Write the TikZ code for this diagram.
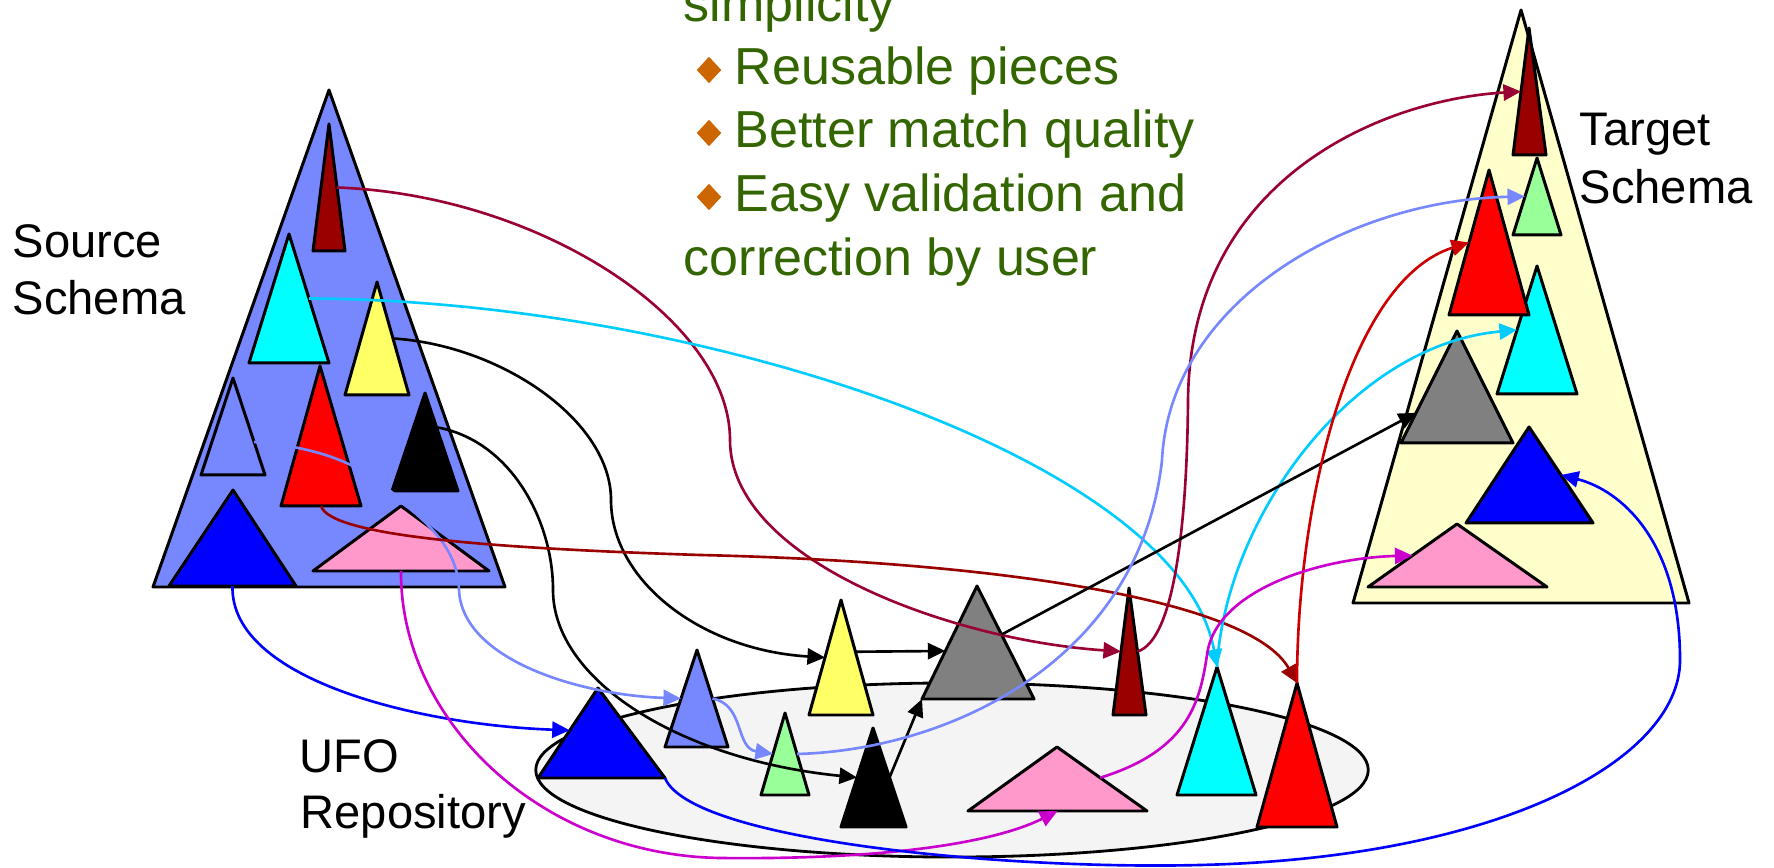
\documentclass[tikz,border=0pt]{standalone}
\usepackage{fontspec}
\setmainfont{Liberation Sans}
\usetikzlibrary{arrows.meta,calc,shapes.geometric}

\definecolor{srcBlue}{HTML}{7788FF}
\definecolor{tgtYellow}{HTML}{FFFFCC}
\definecolor{ufoFill}{HTML}{F4F4F4}
\definecolor{dkRed}{HTML}{990000}
\definecolor{triRed}{HTML}{FF0000}
\definecolor{triBlue}{HTML}{0000FF}
\definecolor{triCyan}{HTML}{00FFFF}
\definecolor{triYellow}{HTML}{FFFF66}
\definecolor{triGreen}{HTML}{99FF99}
\definecolor{triPink}{HTML}{FF99CC}
\definecolor{triGray}{HTML}{808080}
\definecolor{lnMaroon}{HTML}{990033}
\definecolor{lnRed}{HTML}{CC0000}
\definecolor{lnCyan}{HTML}{00CCFF}
\definecolor{lnMagenta}{HTML}{CC00CC}
\definecolor{txtGreen}{HTML}{336600}
\definecolor{bulletOr}{HTML}{CC6600}

\tikzset{
    tri/.style = {draw=black, line width=0.85pt, line join=round},
    link/.style = {line width=0.75pt, -{Triangle[length=5pt, width=4.6pt]}},
    ufoDisk/.style = {ellipse, draw, fill=ufoFill, line width=0.8pt, minimum width=8.32cm, minimum height=1.74cm, inner sep=0pt},
    lbl/.style = {anchor=base west, inner sep=0pt, font=\fontsize{13.4pt}{16pt}\selectfont},
    pts/.style = {anchor=base west, inner sep=0pt, text=txtGreen, font=\fontsize{14.8pt}{18pt}\selectfont},
    bulletMark/.style = {diamond, fill=bulletOr, inner sep=0pt, minimum width=0.25cm, minimum height=0.27cm}
}

% triangle: name, fill, apex, base left, base right
\newcommand{\schemaTri}[5]{%
    \coordinate (#1-a) at (#3);
    \coordinate (#1-l) at (#4);
    \coordinate (#1-r) at (#5);
    \draw[tri, fill=#2] (#1-a) -- (#1-l) -- (#1-r) -- cycle;
}

\begin{document}
\begin{tikzpicture}[x=0.01cm, y=-0.01cm]
    \useasboundingbox (0,0) rectangle (1774,868);
    \clip (0,0) rectangle (1774,868);

    % the three schemas
    \schemaTri{src}{srcBlue}{329,90}{153,587}{505,587}
    \schemaTri{tgt}{tgtYellow}{1521,10}{1353,603}{1689,603}
    \node[ufoDisk] (ufo) at (952,770) {};

    % source schema
    \schemaTri{sDkRed}{dkRed}{329,124}{313,251}{345,251}
    \schemaTri{sCyan}{triCyan}{289,234}{249,363}{329,363}
    \schemaTri{sYel}{triYellow}{377,282}{345,395}{409,395}
    \schemaTri{sPeri}{srcBlue}{233,378}{201,475}{265,475}
    \schemaTri{sRed}{triRed}{320,366}{281,506}{361,506}
    \schemaTri{sBlack}{black}{425,393}{392,491}{458,491}
    \schemaTri{sBlue}{triBlue}{233,490}{169,586}{296,586}
    \schemaTri{sPink}{triPink}{401,506}{313,571}{489,571}

    % target schema
    \schemaTri{tDkRed}{dkRed}{1529,28}{1513,155}{1546,155}
    \schemaTri{tGreen}{triGreen}{1537,158}{1513,235}{1561,235}
    \schemaTri{tCyan}{triCyan}{1537,266}{1497,394}{1577,394}
    \schemaTri{tRed}{triRed}{1489,170}{1449,315}{1529,315}
    \schemaTri{tGray}{triGray}{1457,331}{1401,443}{1513,443}
    \schemaTri{tBlue}{triBlue}{1529,427}{1466,523}{1593,523}
    \schemaTri{tPink}{triPink}{1457,524}{1368,587}{1547,587}

    % repository pieces
    \schemaTri{uBlue}{triBlue}{598,688}{538,778}{665,778}
    \schemaTri{uPeri}{srcBlue}{697,650}{665,747}{728,747}
    \schemaTri{uGreen}{triGreen}{785,713}{761,795}{809,795}
    \schemaTri{uYel}{triYellow}{841,600}{809,715}{873,715}
    \schemaTri{uBlack}{black}{873,728}{841,827}{906,827}
    \schemaTri{uGray}{triGray}{977,586}{922,699}{1034,699}
    \schemaTri{uDkRed}{dkRed}{1129,588}{1113,715}{1146,715}
    \schemaTri{uPink}{triPink}{1057,747}{968,811}{1147,811}
    \schemaTri{uCyan}{triCyan}{1217,667}{1177,795}{1256,795}
    \schemaTri{uRed}{triRed}{1297,683}{1257,827}{1337,827}

    % source -> repository
    \draw[link, lnMaroon] ($(sDkRed-a)!0.5!(sDkRed-r)$) .. controls (540,195) and (730,320) .. (730,440)
        .. controls (730,560) and (950,640) .. ($(uDkRed-a)!0.5!(uDkRed-l)$);
    \draw[link, lnCyan] ($(sCyan-a)!0.5!(sCyan-r)$) .. controls (700,300) and (1180,460) .. (uCyan-a);
    \draw[link] ($(sYel-a)!0.5!(sYel-r)$) .. controls (500,345) and (611,420) .. (611,500)
        .. controls (611,580) and (700,650) .. ($(uYel-a)!0.5!(uYel-l)$);
    \draw[link] ($(sBlack-a)!0.35!(sBlack-r)$) .. controls (510,440) and (553,520) .. (553,590)
        .. controls (553,680) and (680,760) .. ($(uBlack-a)!0.5!(uBlack-l)$);
    \draw[link, srcBlue] ($(sPeri-a)!0.66!(sPeri-r)$) .. controls (330,448) and (370,470) .. (400,500)
        .. controls (430,525) and (458,550) .. (459,590)
        .. controls (462,660) and (580,695) .. ($(uPeri-a)!0.5!(uPeri-l)$);
    \draw[link, dkRed] ($(sRed-l)!0.5!(sRed-r)$) .. controls (330,535) and (480,548) .. (700,555)
        .. controls (1000,562) and (1250,600) .. (uRed-a);
    \draw[link, triBlue] ($(sBlue-l)!0.5!(sBlue-r)$) .. controls (230,680) and (420,725) .. ($(uBlue-a)!0.47!(uBlue-l)$);
    \draw[link, lnMagenta] ($(sPink-l)!0.5!(sPink-r)$) .. controls (400,720) and (540,855) .. (720,858)
        .. controls (900,860) and (1000,840) .. ($(uPink-l)!0.5!(uPink-r)$);

    % inside the repository
    \draw[link] ($(uYel-a)!0.45!(uYel-r)$) -- ($(uGray-a)!0.575!(uGray-l)$);
    \draw[link] ($(uBlack-a)!0.5!(uBlack-r)$) -- (uGray-l);
    \draw[link, srcBlue] ($(uPeri-a)!0.5!(uPeri-r)$) .. controls (745,705) and (735,748) .. ($(uGreen-a)!0.5!(uGreen-l)$);

    % repository -> target
    \draw[link, lnMaroon] ($(uDkRed-a)!0.5!(uDkRed-r)$) .. controls (1175,640) and (1187,520) .. (1188,400)
        .. controls (1190,180) and (1380,100) .. ($(tDkRed-a)!0.5!(tDkRed-l)$);
    \draw[link, lnCyan] (uCyan-a) .. controls (1225,520) and (1350,345) .. ($(tCyan-a)!0.5!(tCyan-l)$);
    \draw[link] ($(uGray-a)!0.43!(uGray-r)$) -- ($(tGray-a)!0.73!(tGray-l)$);
    \draw[link, srcBlue] ($(uGreen-a)!0.5!(uGreen-r)$) .. controls (950,750) and (1140,660) .. (1162,460)
        .. controls (1170,300) and (1350,200) .. ($(tGreen-a)!0.5!(tGreen-l)$);
    \draw[link, lnRed] (uRed-a) .. controls (1297,500) and (1350,280) .. ($(tRed-a)!0.5!(tRed-l)$);
    \draw[link, triBlue] (uBlue-r) .. controls (690,840) and (1000,870) .. (1200,865)
        .. controls (1500,858) and (1680,760) .. (1680,660)
        .. controls (1680,540) and (1620,490) .. ($(tBlue-a)!0.5!(tBlue-r)$);
    \draw[link, lnMagenta] ($(uPink-a)!0.48!(uPink-r)$) .. controls (1190,750) and (1200,700) .. (1207,655)
        .. controls (1215,590) and (1320,558) .. ($(tPink-a)!0.5!(tPink-l)$);

    % labels
    \node[lbl] (srcTop) at (12,258) {Source};
    \node[lbl] (srcBot) at (12,315) {Schema};
    \node[lbl] (tgtTop) at (1579,146) {Target};
    \node[lbl] (tgtBot) at (1579,204) {Schema};
    \node[lbl] (ufoTop) at (299,772) {UFO};
    \node[lbl] (ufoBot) at (300,828) {Repository};

    % benefits
    \node[pts] (p0) at (683,22) {simplicity};
    \node[bulletMark] (b1) at (709,70) {};
    \node[pts] (p1) at (734,85) {Reusable pieces};
    \node[bulletMark] (b2) at (709,133) {};
    \node[pts] (p2) at (734,148) {Better match quality};
    \node[bulletMark] (b3) at (709,197) {};
    \node[pts] (p3) at (734,212) {Easy validation and};
    \node[pts] (p4) at (683,276) {correction by user};
\end{tikzpicture}
\end{document}
